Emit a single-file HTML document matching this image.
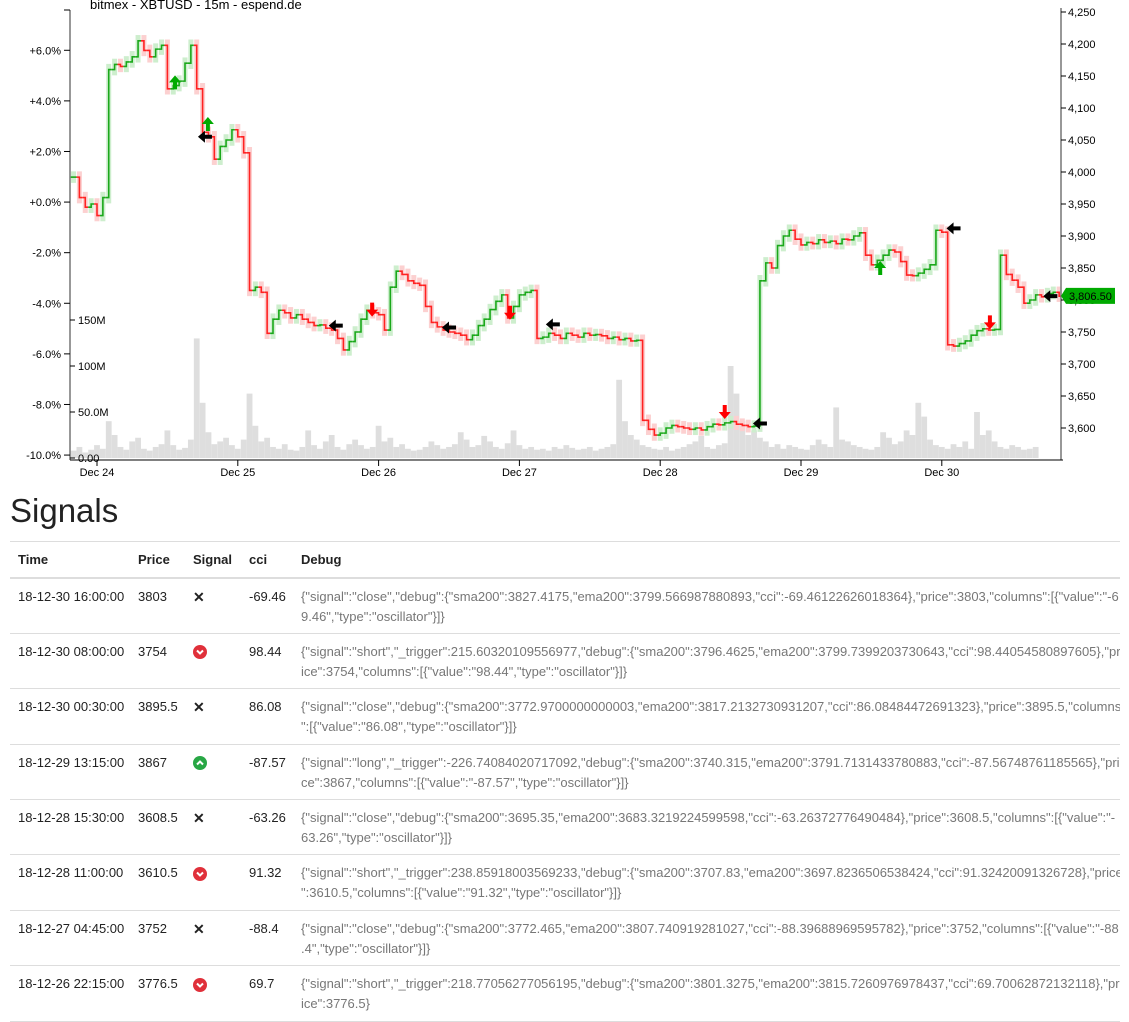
<!DOCTYPE html>
<html><head><meta charset="utf-8">
<style>
body{margin:0;background:#fff;font-family:"Liberation Sans",sans-serif;color:#333;width:1129px;height:1001px;overflow:hidden;position:relative}
#chart{position:absolute;left:0;top:0}
h2{position:absolute;left:10px;top:492px;margin:0;font-size:33px;font-weight:normal;color:#222}
table{position:absolute;left:10px;top:541px;width:1110px;border-collapse:collapse;font-size:13px;table-layout:fixed}
th{text-align:left;font-weight:bold;height:35px;border-top:1px solid #ddd;border-bottom:2px solid #ddd;padding:0 8px;color:#222}
td{vertical-align:top;height:55.4px;box-sizing:border-box;padding:8px 8px 0 8px;border-bottom:1px solid #ddd;line-height:20px;color:#222;white-space:nowrap}
td.dbg{color:#777;overflow:hidden}
.ico{display:inline-block;width:14px;height:14px;vertical-align:middle}
.cl{font-weight:bold;font-size:14px}
</style></head><body>
<svg id="chart" width="1129" height="490"></svg>
<h2>Signals</h2>
<table>
<colgroup><col style="width:120px"><col style="width:55px"><col style="width:56px"><col style="width:52px"><col></colgroup>
<tr><th>Time</th><th>Price</th><th>Signal</th><th>cci</th><th>Debug</th></tr>
<tr><td>18-12-30 16:00:00</td><td>3803</td><td><span class="cl">✕</span></td><td>-69.46</td><td class="dbg">{"signal":"close","debug":{"sma200":3827.4175,"ema200":3799.566987880893,"cci":-69.46122626018364},"price":3803,"columns":[{"value":"-6<br>9.46","type":"oscillator"}]}</td></tr>
<tr><td>18-12-30 08:00:00</td><td>3754</td><td><svg class="ico" viewBox="0 0 14 14"><circle cx="7" cy="7" r="7" fill="#e0303a"/><path d="M4,5.5 L7,8.5 L10,5.5" stroke="#fff" stroke-width="2" fill="none"/></svg></td><td>98.44</td><td class="dbg">{"signal":"short","_trigger":215.60320109556977,"debug":{"sma200":3796.4625,"ema200":3799.7399203730643,"cci":98.44054580897605},"pr<br>ice":3754,"columns":[{"value":"98.44","type":"oscillator"}]}</td></tr>
<tr><td>18-12-30 00:30:00</td><td>3895.5</td><td><span class="cl">✕</span></td><td>86.08</td><td class="dbg">{"signal":"close","debug":{"sma200":3772.9700000000003,"ema200":3817.2132730931207,"cci":86.08484472691323},"price":3895.5,"columns<br>":[{"value":"86.08","type":"oscillator"}]}</td></tr>
<tr><td>18-12-29 13:15:00</td><td>3867</td><td><svg class="ico" viewBox="0 0 14 14"><circle cx="7" cy="7" r="7" fill="#28a745"/><path d="M4,8.5 L7,5.5 L10,8.5" stroke="#fff" stroke-width="2" fill="none"/></svg></td><td>-87.57</td><td class="dbg">{"signal":"long","_trigger":-226.74084020717092,"debug":{"sma200":3740.315,"ema200":3791.7131433780883,"cci":-87.56748761185565},"pri<br>ce":3867,"columns":[{"value":"-87.57","type":"oscillator"}]}</td></tr>
<tr><td>18-12-28 15:30:00</td><td>3608.5</td><td><span class="cl">✕</span></td><td>-63.26</td><td class="dbg">{"signal":"close","debug":{"sma200":3695.35,"ema200":3683.3219224599598,"cci":-63.26372776490484},"price":3608.5,"columns":[{"value":"-<br>63.26","type":"oscillator"}]}</td></tr>
<tr><td>18-12-28 11:00:00</td><td>3610.5</td><td><svg class="ico" viewBox="0 0 14 14"><circle cx="7" cy="7" r="7" fill="#e0303a"/><path d="M4,5.5 L7,8.5 L10,5.5" stroke="#fff" stroke-width="2" fill="none"/></svg></td><td>91.32</td><td class="dbg">{"signal":"short","_trigger":238.85918003569233,"debug":{"sma200":3707.83,"ema200":3697.8236506538424,"cci":91.32420091326728},"price<br>":3610.5,"columns":[{"value":"91.32","type":"oscillator"}]}</td></tr>
<tr><td>18-12-27 04:45:00</td><td>3752</td><td><span class="cl">✕</span></td><td>-88.4</td><td class="dbg">{"signal":"close","debug":{"sma200":3772.465,"ema200":3807.740919281027,"cci":-88.39688969595782},"price":3752,"columns":[{"value":"-88<br>.4","type":"oscillator"}]}</td></tr>
<tr><td>18-12-26 22:15:00</td><td>3776.5</td><td><svg class="ico" viewBox="0 0 14 14"><circle cx="7" cy="7" r="7" fill="#e0303a"/><path d="M4,5.5 L7,8.5 L10,5.5" stroke="#fff" stroke-width="2" fill="none"/></svg></td><td>69.7</td><td class="dbg">{"signal":"short","_trigger":218.77056277056195,"debug":{"sma200":3801.3275,"ema200":3815.7260976978437,"cci":69.70062872132118},"pr<br>ice":3776.5}</td></tr>
</table>
<script>
const startHour = -4;
const closes = [3992,3960,3945,3950,3932,3960,4160,4168,4165,4172,4180,4205,4190,4180,4192,4198,4130,4135,4142,4170,4198,4130,4062,4055,4020,4040,4050,4066,4055,4030,3815,3820,3812,3748,3770,3784,3780,3772,3777,3770,3765,3760,3761,3756,3753,3740,3722,3735,3750,3770,3784,3780,3777,3753,3820,3845,3840,3830,3826,3823,3790,3765,3758,3753,3750,3748,3745,3738,3745,3760,3770,3785,3798,3808,3772,3790,3808,3812,3815,3740,3742,3748,3745,3740,3748,3745,3742,3748,3745,3746,3744,3740,3742,3738,3740,3736,3737,3612,3598,3589,3592,3600,3604,3602,3600,3598,3600,3597,3602,3606,3605,3608,3610,3606,3604,3602,3603,3830,3858,3850,3885,3900,3909,3895,3886,3890,3888,3894,3890,3892,3888,3895,3894,3900,3905,3870,3855,3862,3870,3878,3875,3860,3839,3838,3842,3848,3855,3909,3906,3730,3728,3732,3736,3745,3752,3755,3753,3754,3870,3840,3831,3820,3795,3800,3808,3805,3810,3812,3806];
const volumes = [8,12,6,9,14,10,40,25,12,9,18,22,10,8,12,15,30,14,9,11,20,130,60,28,15,18,22,14,10,20,70,35,18,22,12,10,15,9,8,12,30,14,10,18,25,12,9,15,20,14,10,12,35,18,22,12,15,10,8,9,12,18,14,10,12,15,28,20,12,14,24,18,12,10,16,30,14,10,12,9,10,8,12,10,14,11,9,10,12,8,10,12,15,85,40,25,20,14,12,10,9,12,8,10,12,15,18,24,12,10,14,16,100,70,40,25,30,22,18,12,15,10,14,12,10,9,14,20,15,12,55,20,18,14,12,10,9,12,28,22,15,18,30,25,60,45,20,14,12,10,15,12,18,10,50,25,30,18,12,10,14,12,9,10,12];
const signalHours = [13.3,18.9,18.4,40.7,46.9,60.0,70.4,77.7,107.0,113.0,133.5,146.0,152.2,162.5];
const signalPrices = [4140,4075,4055,3760,3785,3757,3780,3762,3625,3607,3850,3912,3765,3806];
const signalTypes = ["long","long","close","close","short","close","short","close","short","close","long","close","short","close"];
const priceTicks = [3600,3650,3700,3750,3800,3850,3900,3950,4000,4050,4100,4150,4200,4250];
const pctTicks = [-10,-8,-6,-4,-2,0,2,4,6];
const volTicks = [0,50,100,150];
const volLabels = ["0.00","50.0M","100M","150M"];
const dayLabels = ["Dec 24","Dec 25","Dec 26","Dec 27","Dec 28","Dec 29","Dec 30"];
const lastPrice = 3806.5;
const basePrice = 3953;

const NS="http://www.w3.org/2000/svg";
const svg=document.getElementById('chart');
const X=h=>97+h*140.8/24;
const Y=p=>12+(4250-p)*0.64;
const VY=v=>458-v*0.92;
function el(tag,attrs,parent){const e=document.createElementNS(NS,tag);for(const k in attrs)e.setAttribute(k,attrs[k]);(parent||svg).appendChild(e);return e;}
function txt(s,attrs){const t=el('text',Object.assign({'font-family':'Liberation Sans, sans-serif','font-size':11,fill:'#000'},attrs));t.textContent=s;return t;}

// volume
const vg=el('g',{});


volumes.forEach((v,i)=>{const x=X(startHour+i);const r=el('rect',{x:x-2.9,y:VY(v),width:5.8,height:458-VY(v),fill:'#dedede'},vg);

});

// candles
const cg=el('g',{});


closes.forEach((c,i)=>{const o=i?closes[i-1]:c;const x=X(startHour+i);const up=c>=o;
 const hi=Math.max(o,c)+9,lo=Math.min(o,c)-9;
 const w=el('line',{x1:x,x2:x,y1:Y(hi),y2:Y(lo),stroke:up?'#cdeecd':'#fcd0d0','stroke-width':5},cg);
 
 
});
closes.forEach((c,i)=>{const o=i?closes[i-1]:c;const x=X(startHour+i);const up=c>=o;
 const b=el('path',{d:`M${x-2.93},${Y(o)} L${x},${Y(o)} L${x},${Y(c)} L${x+2.93},${Y(c)}`,stroke:up?'#1aa81a':'#f22','stroke-width':1.6,fill:'none'},cg);
 
 
});

// signals
signalTypes.forEach((t,i)=>{const x=X(signalHours[i]),y=Y(signalPrices[i]);let d,f;
 if(t==='long'){d=`M${x},${y-7} L${x+6},${y} L${x+2},${y} L${x+2},${y+7} L${x-2},${y+7} L${x-2},${y} L${x-6},${y}Z`;f='#0a0';}
 else if(t==='short'){d=`M${x},${y+7} L${x+6},${y} L${x+2},${y} L${x+2},${y-7} L${x-2},${y-7} L${x-2},${y} L${x-6},${y}Z`;f='#f00';}
 else {d=`M${x-7},${y} L${x},${y-6} L${x},${y-2} L${x+7},${y-2} L${x+7},${y+2} L${x},${y+2} L${x},${y+6}Z`;f='#000';}
 const p=el('path',{d,fill:f});
 
 
});

// axes
const ax=el('g',{});


el('line',{x1:70,x2:70,y1:10,y2:460,stroke:'#777','stroke-width':1.5},ax);
el('line',{x1:64,x2:70,y1:10,y2:10,stroke:'#000'},ax);
el('line',{x1:1061,x2:1061,y1:8,y2:460,stroke:'#777','stroke-width':1.5},ax);
el('line',{x1:70,x2:1063,y1:460,y2:460,stroke:'#000'},ax);
pctTicks.forEach(p=>{const y=Y(basePrice*(1+p/100));el('line',{x1:64,x2:70,y1:y,y2:y,stroke:'#000'},ax);
 const t=txt((p>=0?'+':'')+p.toFixed(1)+'%',{x:61,y:y+4,'text-anchor':'end'});
 
 });
priceTicks.forEach(p=>{const y=Y(p);el('line',{x1:1061,x2:1066,y1:y,y2:y,stroke:'#000'},ax);
 const t=txt(p.toLocaleString('en-US'),{x:1068,y:y+4});
 
 });
volTicks.forEach((v,i)=>{const y=VY(v);el('line',{x1:70,x2:75,y1:y,y2:y,stroke:'#000'},ax);
 const t=txt(volLabels[i],{x:78,y:y+4});
 
 });
dayLabels.forEach((d,i)=>{const x=X(i*24);el('line',{x1:x,x2:x,y1:460,y2:466,stroke:'#000'},ax);
 const t=txt(d,{x:x,y:476,'text-anchor':'middle'});
 
 });
// last price tag
const ly=Y(lastPrice);
const tag=el('path',{d:`M1061,${ly} L1066,${ly-8} L1115,${ly-8} L1115,${ly+8} L1066,${ly+8}Z`,fill:'#0a0'});


const lt=txt(lastPrice.toLocaleString('en-US',{minimumFractionDigits:2}),{x:1069,y:ly+4,fill:'#000'});


const tt=txt('bitmex - XBTUSD - 15m - espend.de',{x:90,y:9,'font-size':13});


</script>
</body></html>
